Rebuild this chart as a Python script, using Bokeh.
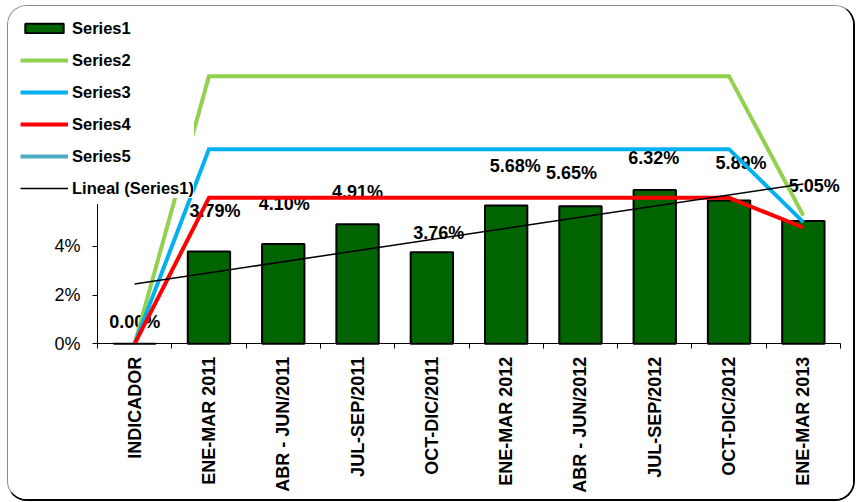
import math
import numpy as np
from bokeh.plotting import figure
from bokeh.models import (ColumnDataSource, FixedTicker, PrintfTickFormatter, Legend, LegendItem,
                          BoxAnnotation)
from bokeh.embed import file_html
from bokeh.resources import INLINE
from bokeh.core.properties import value

categories = ["INDICADOR", "ENE-MAR 2011", "ABR - JUN/2011", "JUL-SEP/2011", "OCT-DIC/2011",
              "ENE-MAR 2012", "ABR - JUN/2012", "JUL-SEP/2012", "OCT-DIC/2012", "ENE-MAR 2013"]
series1 = [0.00, 3.79, 4.10, 4.91, 3.76, 5.68, 5.65, 6.32, 5.89, 5.05]
series2 = [0, 11, 11, 11, 11, 11, 11, 11, 11, 5.27]
series3 = [0, 8, 8, 8, 8, 8, 8, 8, 8, 5.00]
series4 = [0, 6, 6, 6, 6, 6, 6, 6, 6, 4.78]
series5 = [float("nan")] * len(categories)   # listed in the legend, no visible values
y_ticks = [0, 2, 4, 6, 8, 10, 12]

# data-label nudges (screen px) as placed in the original chart
label_dx = [0, 6, 1, 0, 7, 9, -9, -1, 12, 11]
label_dy = [-22, -41, -40, -32, -19, -40, -33, -32, -37, -35]

FONT = "Liberation Sans"
xs = list(range(len(categories)))
n = len(categories)

# layout (pixels): the frame fills the whole figure, axes are placed inside it
FRAME_W, FRAME_H = 845, 493
CAT_PX = 74.3        # width of one category
PCT_PX = 24.33       # height of 1 %
Y_AXIS_PX = 89       # frame left -> y axis
X_AXIS_PX = 155.7    # frame bottom -> x axis

x_start = -0.5 - Y_AXIS_PX / CAT_PX
x_end = x_start + FRAME_W / CAT_PX
y_start = -X_AXIS_PX / PCT_PX
y_end = y_start + FRAME_H / PCT_PX

src = ColumnDataSource(dict(
    x=xs, s1=series1,
    lbl=[f"{v:.2f}%" for v in series1],
    dx=label_dx, dy=label_dy,
))

p = figure(frame_width=FRAME_W, frame_height=FRAME_H,
           x_range=(x_start, x_end), y_range=(y_start, y_end),
           output_backend="svg", toolbar_location=None, min_border=0)
p.outline_line_color = None
p.grid.visible = False
p.background_fill_color = "white"
p.border_fill_color = "white"
p.styles = {"margin-left": "7px", "margin-top": "5px",
            "border-top": "1px solid #8a8a8a", "border-left": "1px solid #8a8a8a",
            "border-right": "2px solid #000000", "border-bottom": "2px solid #000000",
            "border-radius": "20px", "overflow": "hidden"}

# x axis
xa = p.xaxis[0]
xa.fixed_location = 0
xa.bounds = (-0.5, n - 0.5)
xa.ticker = FixedTicker(ticks=xs, minor_ticks=[i - 0.5 for i in range(n + 1)])
xa.major_label_overrides = {i: c for i, c in enumerate(categories)}
xa.major_tick_out = 0
xa.major_tick_in = 0
xa.minor_tick_out = 5
xa.minor_tick_in = 0
xa.minor_tick_line_color = "black"
xa.axis_line_color = "black"
xa.major_label_orientation = math.pi / 2
xa.major_label_text_font = FONT
xa.major_label_text_font_style = "bold"
xa.major_label_text_font_size = "18px"
xa.major_label_text_color = "black"
xa.major_label_standoff = 8

# y axis
ya = p.yaxis[0]
ya.fixed_location = -0.5
ya.bounds = (0, 12)
ya.ticker = FixedTicker(ticks=y_ticks)
ya.formatter = PrintfTickFormatter(format="%d%%")
ya.major_tick_out = 5
ya.major_tick_in = 0
ya.minor_tick_line_color = None
ya.axis_line_color = "black"
ya.major_tick_line_color = "black"
ya.major_label_text_font = FONT
ya.major_label_text_font_size = "18px"
ya.major_label_text_color = "black"
ya.major_label_standoff = 12

bars = p.vbar(x="x", top="s1", width=0.57, source=src, fill_color="#006400",
              line_color="black", line_width=2)

p.text(x="x", y="s1", text="lbl", x_offset="dx", y_offset="dy", source=src,
       text_font=value(FONT), text_font_style="bold", text_font_size="18px",
       text_color="black", text_align="center", text_baseline="middle")

r2 = p.line(xs, series2, line_color="#92D050", line_width=4, line_join="miter")
r3 = p.line(xs, series3, line_color="#00B0F0", line_width=4, line_join="miter")
r4 = p.line(xs, series4, line_color="#FF0000", line_width=4, line_join="miter")
r5 = p.line(xs, series5, line_color="#4BACC6", line_width=4)

coef = np.polyfit(xs, series1, 1)
tx = [xs[0], xs[-1]]
rt = p.line(tx, list(np.polyval(coef, tx)), line_color="black", line_width=1.5)

# white legend area extends a little below the last entry (as in the original)
p.add_layout(BoxAnnotation(left=x_start, right=-0.45, bottom=5.75, top=7.5,
                           fill_color="white", fill_alpha=1.0, line_color=None,
                           level="annotation"))

legend = Legend(items=[
    LegendItem(label="Series1", renderers=[bars]),
    LegendItem(label="Series2", renderers=[r2]),
    LegendItem(label="Series3", renderers=[r3]),
    LegendItem(label="Series4", renderers=[r4]),
    LegendItem(label="Series5", renderers=[r5]),
    LegendItem(label="Lineal (Series1)", renderers=[rt]),
], location=(12, 301))
legend.label_text_font = FONT
legend.label_text_font_style = "bold"
legend.label_text_font_size = "16.5px"
legend.label_text_color = "black"
legend.glyph_width = 48
legend.glyph_height = 12
legend.label_height = 20
legend.spacing = 12
legend.padding = 8
legend.margin = 0
legend.label_standoff = 4
legend.border_line_color = None
legend.background_fill_color = "white"
legend.background_fill_alpha = 1.0
p.add_layout(legend)

open("out.html", "w").write(file_html(p, INLINE))
